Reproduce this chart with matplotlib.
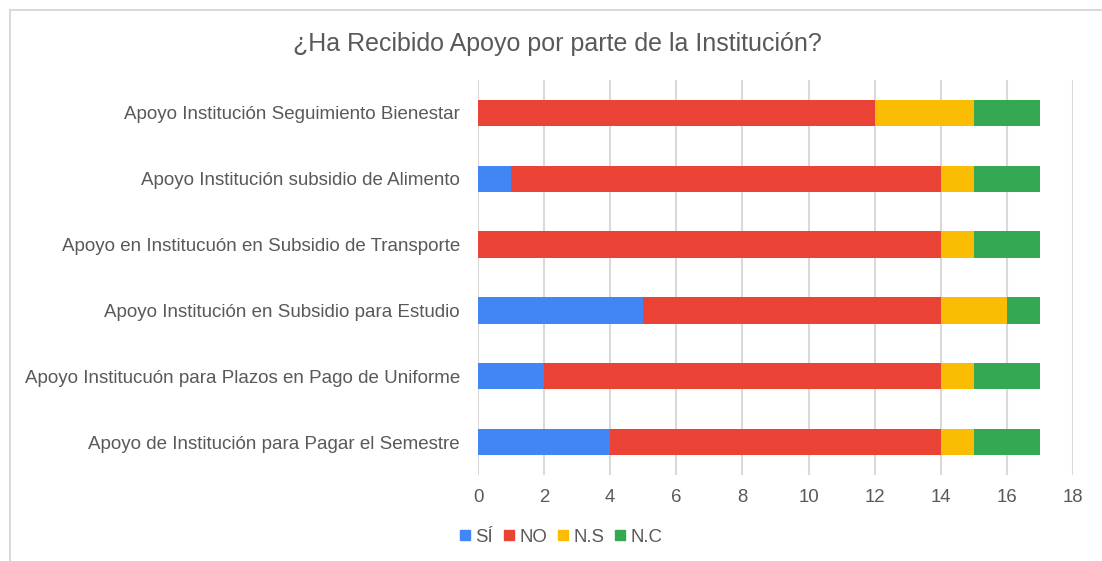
import numpy as np
import matplotlib
matplotlib.use('Agg')
import matplotlib.pyplot as plt
from matplotlib.lines import Line2D

plt.rcParams['font.family'] = ['Liberation Sans', 'DejaVu Sans']

categories = [
    'Apoyo Institución Seguimiento Bienestar',
    'Apoyo Institución subsidio de Alimento',
    'Apoyo en Institucuón en Subsidio de Transporte',
    'Apoyo Institución en Subsidio para Estudio',
    'Apoyo Institucuón para Plazos en Pago de Uniforme',
    'Apoyo de Institución para Pagar el Semestre',
]
si = [0, 1, 0, 5, 2, 4]
no = [12, 13, 14, 9, 12, 10]
ns = [3, 1, 1, 2, 1, 1]
nc = [2, 2, 2, 1, 2, 2]
series = [('SÍ', si, '#4285F4'), ('NO', no, '#EA4335'),
          ('N.S', ns, '#FBBC04'), ('N.C', nc, '#34A853')]

text_col = '#595959'

fig = plt.figure(figsize=(11.02, 5.61), dpi=100)
ax = fig.add_axes([478 / 1102, 1 - 475 / 561, 595 / 1102, 395 / 561])

y = np.arange(len(categories))
left = np.zeros(len(categories))
for name, vals, col in series:
    ax.barh(y, vals, left=left, height=0.4, color=col, label=name, zorder=3)
    left += np.array(vals)

ax.set_ylim(len(categories) - 0.5, -0.5)
ax.set_xlim(0, 18)
ax.set_xticks(range(0, 19, 2))
ax.set_yticks(y)
ax.set_yticklabels(categories)
ax.tick_params(axis='y', length=0, pad=13, labelsize=13.5, colors=text_col)
ax.tick_params(axis='x', length=0, pad=10, labelsize=13.4, colors=text_col)
ax.grid(axis='x', color='#d9d9d9', linewidth=1.5, zorder=0)
for s in ax.spines.values():
    s.set_visible(False)

fig.text(557 / 1102, 1 - 44 / 561, '¿Ha Recibido Apoyo por parte de la Institución?',
         ha='center', va='center', fontsize=18, color=text_col)

handles = [Line2D([], [], marker='s', linestyle='', markersize=7.5,
                  color=col, label=name) for name, _, col in series]
fig.legend(handles=handles, loc='center', bbox_to_anchor=(561.5 / 1102, 1 - 537 / 561),
           ncol=4, frameon=False, fontsize=13.4, labelcolor=text_col,
           handlelength=0.5, handletextpad=0.3, columnspacing=0.6)

# border lines (top and left) of the chart frame
fig.add_artist(Line2D([10 / 1102, 10 / 1102], [0, 1 - 10 / 561],
                      transform=fig.transFigure, color='#d9d9d9', linewidth=1.5))
fig.add_artist(Line2D([10 / 1102, 1], [1 - 10 / 561, 1 - 10 / 561],
                      transform=fig.transFigure, color='#d9d9d9', linewidth=1.5))

fig.savefig('out.png', dpi=100, facecolor='white')
